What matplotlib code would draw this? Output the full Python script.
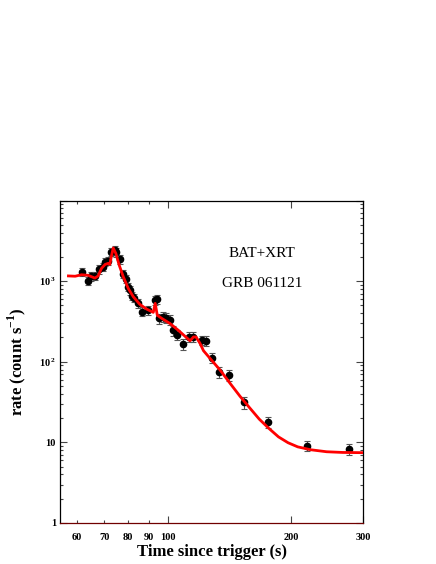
import numpy as np
import matplotlib
matplotlib.use("Agg")
import matplotlib.pyplot as plt
from matplotlib.ticker import FixedLocator, FixedFormatter, LogLocator, NullFormatter

plt.rcParams['font.family'] = 'Liberation Serif'
plt.rcParams['mathtext.fontset'] = 'custom'
plt.rcParams['mathtext.rm'] = 'Liberation Serif'
plt.rcParams['mathtext.bf'] = 'Liberation Serif:bold'

# data points (BAT+XRT light curve)
t = [61.8, 63.7, 65.0, 66.4, 68.0, 69.3, 70.2, 71.5, 72.6, 74.3, 74.7, 76.4,
     77.9, 78.9, 79.8, 80.9, 81.9, 82.9, 84.5, 86.4, 89.3, 93.1, 94.0, 95.2,
     97.2, 99.0, 101.3, 103.2, 105.6, 108.8, 112.8, 115.6, 121.1, 123.9,
     128.1, 133.8, 141.5, 153.5, 175.6, 218.4, 278.0]
rate = [1300, 1005, 1150, 1170, 1400, 1500, 1730, 1790, 2330, 2450, 2290, 1860,
        1240, 1070, 850, 770, 660, 625, 530, 420, 435, 580, 600, 345,
        360, 350, 330, 245, 215, 165, 203, 203, 185, 182,
        112, 75, 68, 31.3, 17.8, 9.1, 8.3]
rel_err = [0.12, 0.12, 0.12, 0.12, 0.12, 0.12, 0.12, 0.12, 0.12, 0.12, 0.12, 0.12,
           0.12, 0.12, 0.12, 0.12, 0.12, 0.12, 0.12, 0.13, 0.13, 0.13, 0.13, 0.14,
           0.14, 0.14, 0.14, 0.14, 0.14, 0.15, 0.14, 0.14, 0.14, 0.14,
           0.15, 0.16, 0.15, 0.16, 0.16, 0.15, 0.15]

# fitted model curve
fit_t = [57.2, 59.4, 61.6, 63.9, 66.4, 67.6, 68.9, 70.3, 71.5, 72.2, 72.9, 73.6,
         74.7, 76.1, 77.9, 80.1, 82.4, 85.5, 88.8, 92.2, 93.2, 94.3, 96.7,
         101.3, 106.1, 113.4, 115.6, 117.3, 120.0, 122.3, 126.9, 134.3, 142.1,
         150.2, 158.6, 167.4, 176.7, 186.5, 196.8, 207.8, 223.5, 244.5, 267.5, 300.0]
fit_rate = [1160, 1150, 1200, 1180, 1090, 1160, 1440, 1610, 1660, 1610, 2080, 2580,
            2200, 1580, 1130, 810, 640, 515, 450, 410, 530, 378, 345,
            298, 246, 182, 203, 203, 168, 137, 110, 78.8, 53.8,
            37.3, 26.8, 19.4, 14.9, 11.7, 9.9, 8.8, 8.1, 7.65, 7.5, 7.45]

fig = plt.figure(figsize=(4.36, 5.64), dpi=100)
ax = fig.add_axes([0.138, 0.0727, 0.6945, 0.5718])

yerr = np.array(rate) * np.array(rel_err)
ax.errorbar(t, rate, yerr=yerr, fmt='o', color='black', ms=4.5,
            ecolor='#555555', elinewidth=0.8, capsize=2.5, capthick=0.8, zorder=3)
ax.plot(fit_t, fit_rate, color='red', lw=2, zorder=4, solid_joinstyle='round')

ax.set_xscale('log')
ax.set_yscale('log')
ax.set_xlim(54.6, 300)
ax.set_ylim(1, 10000)

ax.xaxis.set_major_locator(FixedLocator([100, 200, 300]))
ax.xaxis.set_major_formatter(FixedFormatter(['100', '200', '300']))
ax.xaxis.set_minor_locator(FixedLocator([60, 70, 80, 90]))
ax.xaxis.set_minor_formatter(FixedFormatter(['60', '70', '80', '90']))

ax.yaxis.set_major_locator(FixedLocator([1, 10, 100, 1000, 10000]))
ax.yaxis.set_major_formatter(FixedFormatter(['1', '10', r'$\mathbf{10^{\,2}}$',
                                             r'$\mathbf{10^{\,3}}$', '']))
ax.yaxis.set_minor_locator(LogLocator(base=10, subs=np.arange(2, 10), numticks=20))
ax.yaxis.set_minor_formatter(NullFormatter())

ax.tick_params(which='both', direction='in', top=True, right=True,
               color='#444444', labelsize=7.5)
ax.tick_params(which='major', length=5, width=0.8)
ax.tick_params(which='minor', length=2.5, width=0.8)
ax.tick_params(axis='x', which='both', pad=7)
ax.tick_params(axis='y', which='both', pad=3)
for lab in ax.get_xticklabels(which='both') + ax.get_yticklabels():
    lab.set_fontweight('bold')

for s in ['top', 'left', 'right']:
    ax.spines[s].set_linewidth(0.9)
ax.spines['bottom'].set_color('#700000')
ax.spines['bottom'].set_linewidth(0.9)

ax.set_xlabel('Time since trigger (s)', fontsize=12, fontweight='bold', labelpad=2)
ax.set_ylabel(r'rate (count s$^{\mathbf{-1}}$)', fontsize=12, fontweight='bold', labelpad=8)

ax.text(0.666, 0.837, 'BAT+XRT', transform=ax.transAxes, ha='center', va='center', fontsize=11)
ax.text(0.666, 0.744, 'GRB 061121', transform=ax.transAxes, ha='center', va='center', fontsize=11)

fig.savefig('out.png', dpi=100)
